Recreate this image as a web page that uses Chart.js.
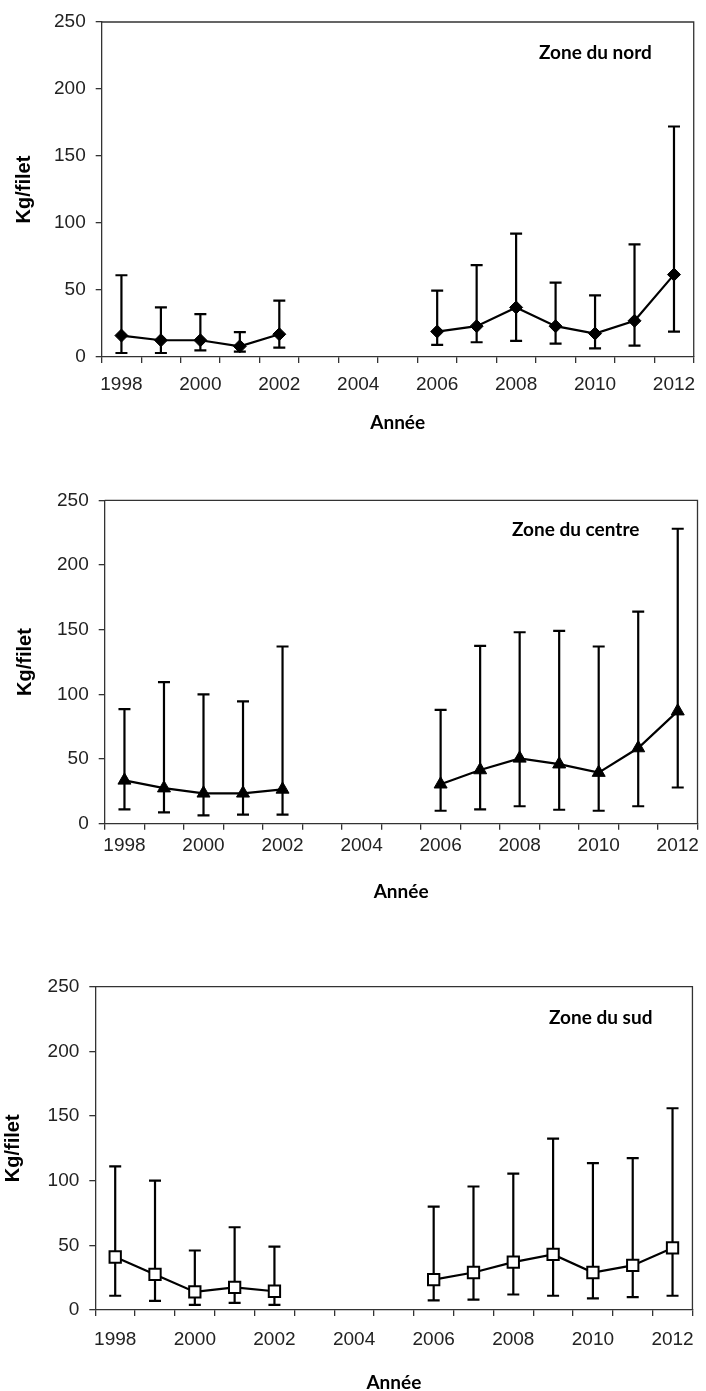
<!DOCTYPE html>
<html lang="fr">
<head>
<meta charset="utf-8">
<title>Kg/filet par zone, 1998-2012</title>
<script src="https://cdn.jsdelivr.net/npm/chart.js@4.4.1/dist/chart.umd.min.js"></script>
<style>
    html, body { margin: 0; padding: 0; background: #fff; }
    #page { position: relative; width: 706px; height: 1391px; overflow: hidden; }
    canvas { position: absolute; left: 0; }
</style>
</head>
<body>
<div id="page">
    <canvas id="chartNord" width="706" height="445" style="top:0px"></canvas>
    <canvas id="chartCentre" width="706" height="460" style="top:455px"></canvas>
    <canvas id="chartSud" width="706" height="441" style="top:950px"></canvas>
</div>
<script>
// Categories (years) and tick values
const years = ['1998', '1999', '2000', '2001', '2002', '2003', '2004', '2005',
               '2006', '2007', '2008', '2009', '2010', '2011', '2012'];
const yTicks = [0, 50, 100, 150, 200, 250];

// Zone du nord
const nordMean  = [16, 12.5, 12.5, 8, 17, null, null, null, 19, 23, 37, 23, 17.5, 27, 61.5];
const nordUpper = [61, 37, 32, 18.5, 42, null, null, null, 49.5, 68.5, 92, 55.5, 46, 84, 172];
const nordLower = [3, 3, 5, 4, 7, null, null, null, 9, 11, 12, 10, 6.5, 8.5, 19];

// Zone du centre
const centreMean  = [33.5, 27.5, 23.5, 23.5, 26.5, null, null, null, 30.5, 41.5, 50.5, 46, 39.5, 58.5, 87];
const centreUpper = [88.5, 109.5, 100, 94.5, 137, null, null, null, 88, 137.5, 148, 149, 137, 164, 228];
const centreLower = [11, 8.8, 6.5, 7, 7, null, null, null, 10, 11, 13.5, 10.8, 10, 13.5, 28];

// Zone du sud
const sudMean  = [41, 27.5, 14, 17.5, 14.5, null, null, null, 23.5, 29, 37, 43, 29, 34.5, 48];
const sudUpper = [111, 100, 46, 64, 49, null, null, null, 80, 95.5, 105.5, 132.5, 113.5, 117.5, 156];
const sudLower = [11, 7, 4, 5.5, 4, null, null, null, 7.5, 8, 12, 11, 9, 10, 11];

const AXIS_COLOR = '#333';
const TICK_FONT = { family: "'Liberation Sans', Arial, sans-serif", size: 19, lineHeight: 1.2 };
const BOLD_FONT = { family: "Lato, 'Open Sans', sans-serif", size: 19, weight: 'bold', lineHeight: 1 };

/**
 * Draws the vertical error bars behind the markers
 */
const errorBarsPlugin = {
    id: 'errorBars',
    beforeDatasetsDraw(chart, args, opts) {
        const meta = chart.getDatasetMeta(0);
        const yScale = chart.scales.y;
        const ctx = chart.ctx;
        const half = opts.capWidth / 2;
        ctx.save();
        ctx.strokeStyle = '#000';
        ctx.lineWidth = opts.lineWidth;
        meta.data.forEach((pt, i) => {
            const lo = opts.lower[i];
            const hi = opts.upper[i];
            if (lo == null || hi == null) return;
            const yLo = yScale.getPixelForValue(lo);
            const yHi = yScale.getPixelForValue(hi);
            ctx.beginPath();
            ctx.moveTo(pt.x, yHi);
            ctx.lineTo(pt.x, yLo);
            ctx.moveTo(pt.x - half, yHi);
            ctx.lineTo(pt.x + half, yHi);
            ctx.moveTo(pt.x - half, yLo);
            ctx.lineTo(pt.x + half, yLo);
            ctx.stroke();
        });
        ctx.restore();
    }
};

/**
 * Closes the plot area with a top and right border
 */
const framePlugin = {
    id: 'frame',
    afterDraw(chart) {
        const { left, top, right, bottom } = chart.chartArea;
        const ctx = chart.ctx;
        ctx.save();
        ctx.strokeStyle = AXIS_COLOR;
        ctx.lineWidth = 1.3;
        ctx.beginPath();
        ctx.moveTo(left, top);
        ctx.lineTo(right, top);
        ctx.lineTo(right, bottom);
        ctx.stroke();
        ctx.restore();
    }
};

/**
 * Zone name written inside the plot area
 */
const zoneLabelPlugin = {
    id: 'zoneLabel',
    afterDraw(chart, args, opts) {
        const ctx = chart.ctx;
        ctx.save();
        ctx.font = `bold ${BOLD_FONT.size}px ${BOLD_FONT.family}`;
        ctx.fillStyle = '#000';
        ctx.textAlign = 'left';
        ctx.textBaseline = 'middle';
        ctx.fillText(opts.text, opts.x, opts.y);
        ctx.restore();
    }
};

/**
 * Build one panel
 */
function makePanel(canvasId, p) {
    const ctx = document.getElementById(canvasId).getContext('2d');
    const height = ctx.canvas.height;

    return new Chart(ctx, {
        type: 'line',
        data: {
            labels: years,
            datasets: [{
                data: p.mean,
                borderColor: '#000',
                borderWidth: 2.2,
                tension: 0,
                spanGaps: false,
                pointStyle: p.pointStyle,
                pointRadius: p.pointRadius,
                pointBackgroundColor: p.pointFill,
                pointBorderColor: '#000',
                pointBorderWidth: p.pointBorder
            }]
        },
        plugins: [errorBarsPlugin, framePlugin, zoneLabelPlugin],
        options: {
            responsive: false,
            animation: false,
            events: [],
            layout: {
                padding: { top: p.plotTop, right: 706 - p.plotRight, left: 0, bottom: 0 }
            },
            plugins: {
                legend: { display: false },
                tooltip: { enabled: false },
                errorBars: { lower: p.lower, upper: p.upper, capWidth: 12, lineWidth: 2.2 },
                zoneLabel: { text: p.zone, x: p.zoneX, y: p.zoneY }
            },
            scales: {
                x: {
                    type: 'category',
                    offset: true,
                    grid: {
                        offset: true,
                        drawOnChartArea: false,
                        drawTicks: true,
                        tickLength: 6,
                        color: AXIS_COLOR,
                        lineWidth: 1.3
                    },
                    border: { display: true, color: AXIS_COLOR, width: 1.3 },
                    ticks: {
                        autoSkip: false,
                        maxRotation: 0,
                        padding: p.xTickPad,
                        color: '#222',
                        font: TICK_FONT,
                        callback: (val, idx) => (idx % 2 === 0 ? years[idx] : '')
                    },
                    title: {
                        display: true,
                        text: 'Année',
                        color: '#000',
                        font: BOLD_FONT,
                        padding: { top: 0, bottom: p.xTitlePad }
                    },
                    afterFit: scale => { scale.height = height - p.plotBottom; }
                },
                y: {
                    min: 0,
                    max: 250,
                    afterBuildTicks: scale => { scale.ticks = yTicks.map(v => ({ value: v })); },
                    grid: {
                        drawOnChartArea: false,
                        drawTicks: true,
                        tickLength: 6,
                        color: AXIS_COLOR,
                        lineWidth: 1.3
                    },
                    border: { display: true, color: AXIS_COLOR, width: 1.3 },
                    ticks: {
                        padding: 10,
                        color: '#222',
                        font: TICK_FONT
                    },
                    title: {
                        display: true,
                        text: 'Kg/filet',
                        color: '#000',
                        font: { family: "'Liberation Sans', Arial, sans-serif", size: 20, weight: 'bold', lineHeight: 1 },
                        padding: { top: p.yTitlePad, bottom: 0 }
                    },
                    afterFit: scale => { scale.width = p.plotLeft; }
                }
            }
        }
    });
}

makePanel('chartNord', {
    mean: nordMean, upper: nordUpper, lower: nordLower,
    pointStyle: 'rectRot', pointRadius: 6.5, pointFill: '#000', pointBorder: 1,
    zone: 'Zone du nord', zoneX: 539, zoneY: 53,
    plotLeft: 101.7, plotTop: 22, plotRight: 697.7, plotBottom: 357,
    xTickPad: 10.6, xTitlePad: 12.5, yTitlePad: 14
});

makePanel('chartCentre', {
    mean: centreMean, upper: centreUpper, lower: centreLower,
    pointStyle: 'triangle', pointRadius: 7.5, pointFill: '#000', pointBorder: 1,
    zone: 'Zone du centre', zoneX: 512, zoneY: 75,
    plotLeft: 104.7, plotTop: 45.3, plotRight: 698.3, plotBottom: 368.7,
    xTickPad: 4.6, xTitlePad: 13.5, yTitlePad: 15
});

makePanel('chartSud', {
    mean: sudMean, upper: sudUpper, lower: sudLower,
    pointStyle: 'rect', pointRadius: 8, pointFill: '#fff', pointBorder: 2,
    zone: 'Zone du sud', zoneX: 549, zoneY: 68,
    plotLeft: 95.3, plotTop: 36.7, plotRight: 702.7, plotBottom: 360,
    xTickPad: 12, xTitlePad: -1, yTitlePad: 3.5
});
</script>
</body>
</html>
